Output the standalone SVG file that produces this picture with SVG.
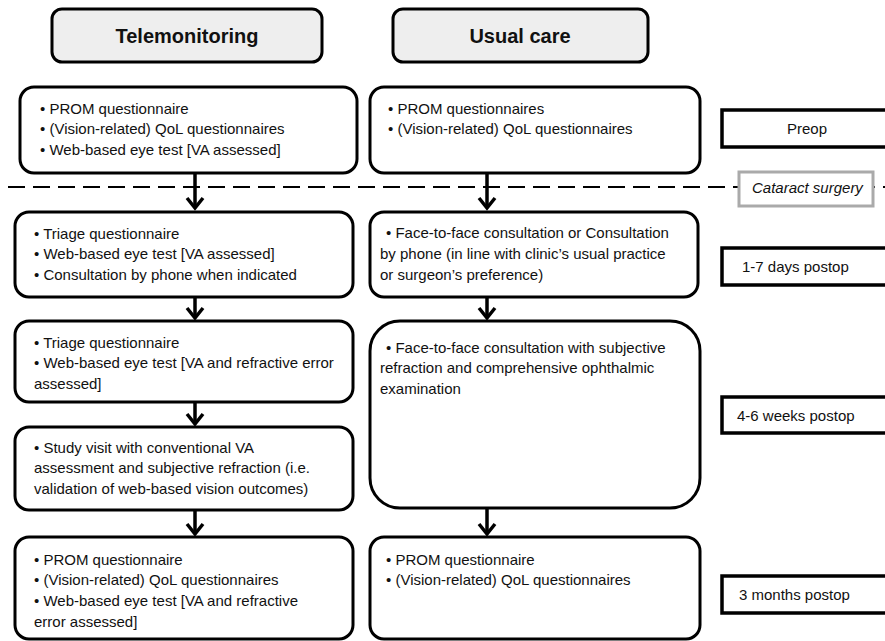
<svg xmlns="http://www.w3.org/2000/svg" width="885" height="641" viewBox="0 0 885 641">
<defs>
<style>
.box{fill:#fff;stroke:#000;stroke-width:3}
.hdr{fill:#eeeeee;stroke:#000;stroke-width:3}
.lbl{fill:#fff;stroke:#000;stroke-width:3.5}
.t{font-family:"Liberation Sans",Arial,sans-serif;font-size:15px;fill:#111}
.h{font-family:"Liberation Sans",Arial,sans-serif;font-size:20px;font-weight:bold;fill:#111;text-anchor:middle}
.arr{stroke:#000;stroke-width:3.5;fill:none;marker-end:url(#ah)}
</style>
<marker id="ah" markerUnits="userSpaceOnUse" markerWidth="24" markerHeight="24" refX="13" refY="12" orient="auto" viewBox="0 0 24 24">
<path d="M3,4 L13,12 L3,20" fill="none" stroke="#000" stroke-width="3.5"/>
</marker>
</defs>

<g id="connectors">
<line x1="8" y1="187" x2="885" y2="187" stroke="#000" stroke-width="2" stroke-dasharray="17 8"/>
<path class="arr" d="M195,173 V208"/>
<path class="arr" d="M195,297 V318"/>
<path class="arr" d="M195,402 V424"/>
<path class="arr" d="M195,510 V534"/>
<path class="arr" d="M487,173 V208"/>
<path class="arr" d="M487,297 V318"/>
<path class="arr" d="M487,508 V534"/>
</g>

<g id="hdr-tele">
<rect class="hdr" x="52" y="9" width="270" height="53" rx="10"/>
<text class="h" x="187" y="43">Telemonitoring</text>
</g>
<g id="hdr-usual">
<rect class="hdr" x="393" y="9" width="255" height="53" rx="10"/>
<text class="h" x="520" y="43">Usual care</text>
</g>

<g id="tele-preop">
<rect class="box" x="20" y="87" width="337" height="86" rx="14"/>
<text class="t" x="40" y="114">• PROM questionnaire</text>
<text class="t" x="40" y="134">• (Vision-related) QoL questionnaires</text>
<text class="t" x="40" y="155">• Web-based eye test [VA assessed]</text>
</g>
<g id="usual-preop">
<rect class="box" x="370" y="87" width="330" height="86" rx="14"/>
<text class="t" x="388" y="114">• PROM questionnaires</text>
<text class="t" x="388" y="134">• (Vision-related) QoL questionnaires</text>
</g>
<g id="lbl-preop">
<rect class="lbl" x="722" y="110" width="170" height="37"/>
<text class="t" x="807" y="134" text-anchor="middle">Preop</text>
</g>
<g id="lbl-surgery">
<rect x="739" y="172" width="134" height="34" fill="#fff" stroke="#aaa" stroke-width="3"/>
<text class="t" x="752" y="193" font-style="italic" font-size="14">Cataract surgery</text>
</g>

<g id="tele-1w">
<rect class="box" x="15" y="212" width="338" height="85" rx="14"/>
<text class="t" x="34" y="239">• Triage questionnaire</text>
<text class="t" x="34" y="259">• Web-based eye test [VA assessed]</text>
<text class="t" x="34" y="280">• Consultation by phone when indicated</text>
</g>
<g id="usual-1w">
<rect class="box" x="370" y="212" width="328" height="85" rx="14"/>
<text class="t" x="386" y="238">• Face-to-face consultation or Consultation</text>
<text class="t" x="380" y="259">by phone (in line with clinic’s usual practice</text>
<text class="t" x="380" y="280">or surgeon’s preference)</text>
</g>
<g id="lbl-1w">
<rect class="lbl" x="722" y="248" width="170" height="37"/>
<text class="t" x="742" y="272">1-7 days postop</text>
</g>

<g id="tele-triage">
<rect class="box" x="15" y="321" width="338" height="81" rx="14"/>
<text class="t" x="34" y="348">• Triage questionnaire</text>
<text class="t" x="34" y="368">• Web-based eye test [VA and refractive error</text>
<text class="t" x="34" y="389">assessed]</text>
</g>
<g id="usual-4w">
<rect class="box" x="370" y="321" width="330" height="187" rx="30"/>
<text class="t" x="386" y="353">• Face-to-face consultation with subjective</text>
<text class="t" x="380" y="373">refraction and comprehensive ophthalmic</text>
<text class="t" x="380" y="394">examination</text>
</g>
<g id="tele-visit">
<rect class="box" x="15" y="427" width="338" height="83" rx="14"/>
<text class="t" x="34" y="453">• Study visit with conventional VA</text>
<text class="t" x="34" y="473">assessment and subjective refraction (i.e.</text>
<text class="t" x="34" y="494">validation of web-based vision outcomes)</text>
</g>
<g id="lbl-4w">
<rect class="lbl" x="722" y="397" width="170" height="36"/>
<text class="t" x="737" y="421">4-6 weeks postop</text>
</g>

<g id="tele-3m">
<rect class="box" x="15" y="537" width="338" height="102" rx="14"/>
<text class="t" x="34" y="565">• PROM questionnaire</text>
<text class="t" x="34" y="585">• (Vision-related) QoL questionnaires</text>
<text class="t" x="34" y="606">• Web-based eye test [VA and refractive</text>
<text class="t" x="34" y="627">error assessed]</text>
</g>
<g id="usual-3m">
<rect class="box" x="370" y="537" width="330" height="102" rx="14"/>
<text class="t" x="386" y="565">• PROM questionnaire</text>
<text class="t" x="386" y="585">• (Vision-related) QoL questionnaires</text>
</g>
<g id="lbl-3m">
<rect class="lbl" x="722" y="576" width="170" height="37"/>
<text class="t" x="739" y="600">3 months postop</text>
</g>
</svg>
